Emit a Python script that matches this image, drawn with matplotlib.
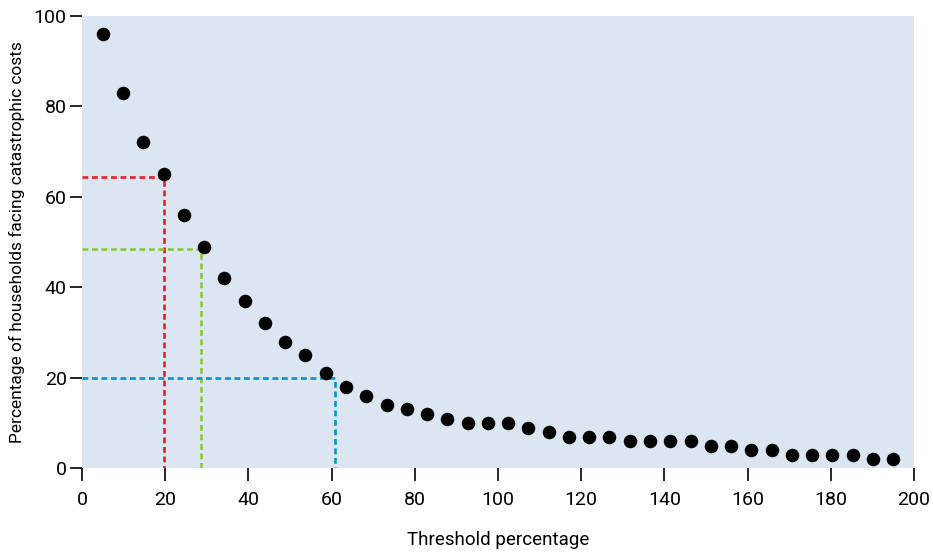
import matplotlib
matplotlib.use("Agg")
import matplotlib.pyplot as plt

plt.rcParams['font.family'] = ['Roboto', 'DejaVu Sans']

# threshold percentage (x) and share of households (y)
threshold = [5.0, 9.9, 14.7, 19.6, 24.5, 29.4, 34.2, 39.1, 44.0, 48.8,
             53.7, 58.6, 63.5, 68.3, 73.2, 78.1, 82.9, 87.8, 92.7, 97.6,
             102.4, 107.3, 112.2, 117.1, 121.9, 126.8, 131.7, 136.6, 141.4, 146.3,
             151.2, 156.1, 160.9, 165.8, 170.7, 175.6, 180.4, 185.3, 190.2, 195.0]
households = [96, 83, 72, 65, 56, 49, 42, 37, 32, 28,
              25, 21, 18, 16, 14, 13, 12, 11, 10, 10,
              10, 9, 8, 7, 7, 7, 6, 6, 6, 6,
              5, 5, 4, 4, 3, 3, 3, 3, 2, 2]

# reference guides: (threshold, percentage, colour)
guide_x = [19.6, 28.6, 60.8]
guide_y = [64.4, 48.5, 20.0]
guide_colors = ['#ec1c24', '#8dc63f', '#0096d6']

fig = plt.figure(figsize=(9.33, 5.54), dpi=100)
ax = fig.add_axes([0.0879, 0.1547, 0.8917, 0.817])
ax.set_facecolor('#dce6f2')

for gx, gy, c in zip(guide_x, guide_y, guide_colors):
    ax.plot([0, gx, gx], [gy, gy, 0], color=c, lw=1.9, dashes=(2.2, 1.4), zorder=2)

ax.scatter(threshold, households, s=95, color='black', zorder=3, linewidths=0)

ax.set_xlim(0, 200)
ax.set_ylim(0, 100)
ax.set_xticks(range(0, 201, 20))
ax.set_yticks(range(0, 101, 20))
for s in ax.spines.values():
    s.set_visible(False)
ax.tick_params(axis='both', direction='out', length=9, width=1.2, labelsize=14, color='black')
ax.tick_params(axis='y', pad=2)
ax.tick_params(axis='x', pad=7)

ax.set_xlabel('Threshold percentage', fontsize=13.5, labelpad=16)
ax.set_ylabel('Percentage of households facing catastrophic costs', fontsize=12.5, labelpad=6)

fig.savefig('out.png', dpi=100)
